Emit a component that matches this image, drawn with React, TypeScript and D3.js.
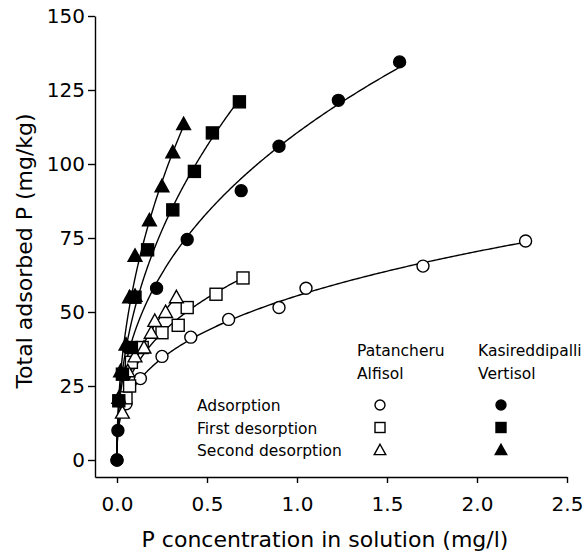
import React, { useEffect, useRef } from "react";
import * as d3 from "d3";

// P concentration in solution (mg/l) vs total adsorbed P (mg/kg)
const alfisolAdsorption = [
  { x: 0.0, y: 0 }, { x: 0.05, y: 19 }, { x: 0.13, y: 27.5 }, { x: 0.25, y: 35 },
  { x: 0.41, y: 41.5 }, { x: 0.62, y: 47.5 }, { x: 0.9, y: 51.5 }, { x: 1.05, y: 58 },
  { x: 1.7, y: 65.5 }, { x: 2.27, y: 74 },
];
const alfisolFirstDesorption = [
  { x: 0.05, y: 21 }, { x: 0.07, y: 25 }, { x: 0.08, y: 33 },
  { x: 0.14, y: 38 }, { x: 0.25, y: 43 }, { x: 0.34, y: 45.5 }, { x: 0.39, y: 51.5 },
  { x: 0.55, y: 56 }, { x: 0.7, y: 61.5 },
];
const alfisolSecondDesorption = [
  { x: 0.03, y: 16 }, { x: 0.06, y: 30 }, { x: 0.1, y: 35 }, { x: 0.15, y: 38 },
  { x: 0.19, y: 43 }, { x: 0.21, y: 47 }, { x: 0.27, y: 50 }, { x: 0.33, y: 55 },
];
const vertisolAdsorption = [
  { x: 0.0, y: 0 }, { x: 0.005, y: 10 }, { x: 0.01, y: 20 }, { x: 0.03, y: 29 },
  { x: 0.06, y: 38 }, { x: 0.22, y: 58 }, { x: 0.39, y: 74.5 }, { x: 0.69, y: 91 },
  { x: 0.9, y: 106 }, { x: 1.23, y: 121.5 }, { x: 1.57, y: 134.5 },
];
const vertisolFirstDesorption = [
  { x: 0.01, y: 20 }, { x: 0.03, y: 29 }, { x: 0.08, y: 38 }, { x: 0.1, y: 55 },
  { x: 0.17, y: 71 }, { x: 0.31, y: 84.5 }, { x: 0.43, y: 97.5 }, { x: 0.53, y: 110.5 },
  { x: 0.68, y: 121 },
];
const vertisolSecondDesorption = [
  { x: 0.01, y: 21 }, { x: 0.02, y: 30 }, { x: 0.05, y: 39 }, { x: 0.07, y: 55 },
  { x: 0.1, y: 55.5 }, { x: 0.1, y: 69 }, { x: 0.18, y: 81 }, { x: 0.25, y: 92.5 },
  { x: 0.31, y: 104 }, { x: 0.37, y: 113.5 },
];

const xTicks = [0, 0.5, 1.0, 1.5, 2.0, 2.5];
const yTicks = [0, 25, 50, 75, 100, 125, 150];
const stepLabels = ["Adsorption", "First desorption", "Second desorption"];
const soilAlfisol = ["Patancheru", "Alfisol"];
const soilVertisol = ["Kasireddipalli", "Vertisol"];

const FONT = "DejaVu Sans";
const width = 586;
const height = 554;

// Freundlich fit y = a*x^b, least squares on y, used for the smooth curves
function fitFreundlich(data) {
  const pts = data.filter((d) => d.x > 0);
  let best = { a: 1, b: 0.5, err: Infinity };
  d3.range(0.1, 1.0, 0.005).forEach((b) => {
    const a = d3.sum(pts, (d) => d.y * Math.pow(d.x, b)) / d3.sum(pts, (d) => Math.pow(d.x, 2 * b));
    const err = d3.sum(pts, (d) => (d.y - a * Math.pow(d.x, b)) ** 2);
    if (err < best.err) best = { a, b, err };
  });
  return (v) => (v <= 0 ? 0 : best.a * Math.pow(v, best.b));
}

function drawMarker(g, shape, filled, cx, cy, s) {
  const fill = filled ? "black" : "white";
  if (shape === "circle") {
    g.append("circle").attr("cx", cx).attr("cy", cy).attr("r", s)
      .attr("fill", fill).attr("stroke", "black").attr("stroke-width", 1.4);
  } else if (shape === "square") {
    g.append("rect").attr("x", cx - s).attr("y", cy - s).attr("width", 2 * s).attr("height", 2 * s)
      .attr("fill", fill).attr("stroke", "black").attr("stroke-width", 1.4);
  } else {
    const h = s * 1.15;
    g.append("path")
      .attr("d", `M${cx},${cy - h} L${cx + h},${cy + h * 0.8} L${cx - h},${cy + h * 0.8} Z`)
      .attr("fill", fill).attr("stroke", "black").attr("stroke-width", 1.4);
  }
}

function Chart() {
  const svgRef = useRef(null);

  useEffect(() => {
    const svg = d3.select(svgRef.current);
    svg.selectAll("*").remove();

    const x = d3.scaleLinear().domain([0, 2.5]).range([117, 567]);
    const y = d3.scaleLinear().domain([0, 150]).range([460, 16]);

    // axes (the x axis starts at the y axis, a little left of 0)
    const xAxisScale = x.copy().domain([x.invert(95), 2.5]).range([95, 567]);
    const yAxisScale = y.copy().domain([y.invert(477), 150]).range([477, 16]);

    const gx = svg.append("g").attr("transform", "translate(0,477)")
      .call(d3.axisBottom(xAxisScale).tickValues(xTicks).tickSize(6).tickSizeOuter(0)
        .tickPadding(14).tickFormat(d3.format(".1f")));
    const gy = svg.append("g").attr("transform", "translate(95,0)")
      .call(d3.axisLeft(yAxisScale).tickValues(yTicks).tickSize(7).tickSizeOuter(0).tickPadding(3));
    [gx, gy].forEach((g) => {
      g.selectAll("path,line").attr("stroke", "black").attr("stroke-width", 1.4);
      g.selectAll("text").attr("font-family", FONT).attr("font-size", 20).attr("fill", "black");
    });

    svg.append("text").attr("x", 325).attr("y", 547).attr("text-anchor", "middle")
      .attr("font-family", FONT).attr("font-size", 22).text("P concentration in solution (mg/l)");
    svg.append("text").attr("transform", "translate(32,251) rotate(-90)").attr("text-anchor", "middle")
      .attr("font-family", FONT).attr("font-size", 22).text("Total adsorbed P (mg/kg)");

    const series = [
      { data: alfisolAdsorption, shape: "circle", filled: false },
      { data: alfisolFirstDesorption, shape: "square", filled: false },
      { data: alfisolSecondDesorption, shape: "triangle", filled: false },
      { data: vertisolAdsorption, shape: "circle", filled: true },
      { data: vertisolFirstDesorption, shape: "square", filled: true },
      { data: vertisolSecondDesorption, shape: "triangle", filled: true },
    ];

    const line = d3.line().x((d) => x(d.x)).y((d) => y(d.y));
    const curves = svg.append("g");
    const marks = svg.append("g");
    series.forEach((s) => {
      const f = fitFreundlich(s.data);
      const xmax = d3.max(s.data, (d) => d.x) * 1.01;
      const pts = d3.range(0, 1.0001, 0.004).map((t) => ({ x: xmax * t * t, y: f(xmax * t * t) }));
      curves.append("path").datum(pts).attr("d", line)
        .attr("fill", "none").attr("stroke", "black").attr("stroke-width", 1.4);
    });
    series.forEach((s) => {
      s.data.forEach((d) => drawMarker(marks, s.shape, s.filled, x(d.x), y(d.y), 6));
    });

    // legend
    const lg = svg.append("g").attr("font-family", FONT).attr("font-size", 15.5).attr("fill", "black");
    soilAlfisol.forEach((t, i) => lg.append("text").attr("x", 357).attr("y", 356 + i * 23).text(t));
    soilVertisol.forEach((t, i) => lg.append("text").attr("x", 478).attr("y", 356 + i * 23).text(t));
    const shapes = ["circle", "square", "triangle"];
    stepLabels.forEach((t, i) => {
      const cy = 405 + i * 22.5;
      lg.append("text").attr("x", 197).attr("y", cy + 6).text(t);
      drawMarker(lg, shapes[i], false, 380, cy, 5);
      drawMarker(lg, shapes[i], true, 501, cy, 5);
    });
  }, []);

  return (
    <svg ref={svgRef} width={width} height={height}
      style={{ display: "block", position: "absolute", left: 0, top: 0, background: "white" }} />
  );
}

export default function App() {
  return <Chart />;
}
